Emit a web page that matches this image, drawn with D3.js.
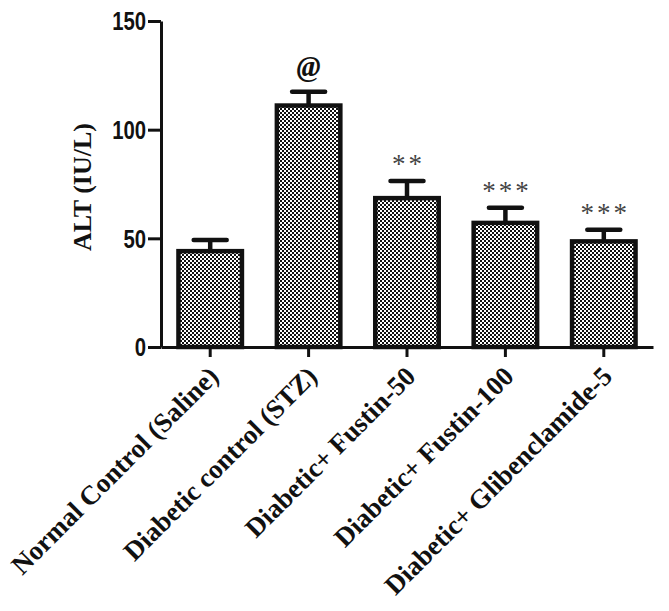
<!DOCTYPE html>
<html><head><meta charset="utf-8">
<script src="https://cdn.jsdelivr.net/npm/d3@7"></script>
<style>
html,body{margin:0;padding:0;background:#fff;}
svg{display:block;}
</style></head>
<body>
<svg id="chart" width="669" height="611"></svg>
<script>
const categories = ["Normal Control (Saline)", "Diabetic control (STZ)", "Diabetic+ Fustin-50", "Diabetic+ Fustin-100", "Diabetic+ Glibenclamide-5"];
const means = [44.1, 111.1, 68.5, 57.1, 48.6];
const sems = [5.1, 6.3, 7.9, 7.0, 5.4];
const marks = ["", "@", "**", "***", "***"];
const yTicks = [0, 50, 100, 150];
const yLabel = "ALT (IU/L)";

const svg = d3.select("#chart");
const x0 = 161, x1 = 653, yBase = 347, yTop = 21;

const x = d3.scaleBand().domain(categories).range([x0, x1]).paddingInner(0.355).paddingOuter(0.1775);
const y = d3.scaleLinear().domain([0, 150]).range([yBase, yTop]);

const defs = svg.append("defs");
const pat = defs.append("pattern").attr("id", "checker").attr("patternUnits", "userSpaceOnUse")
  .attr("width", 4).attr("height", 4);
pat.append("rect").attr("width", 4).attr("height", 4).attr("fill", "#fff");
pat.append("rect").attr("x", 0).attr("y", 0).attr("width", 2).attr("height", 2).attr("fill", "#111");
pat.append("rect").attr("x", 2).attr("y", 2).attr("width", 2).attr("height", 2).attr("fill", "#111");

const data = categories.map((c, i) => ({c, m: means[i], s: sems[i], mark: marks[i]}));
const cx = d => x(d.c) + x.bandwidth()/2;

// error bars
const eb = svg.append("g");
eb.selectAll("line.stem").data(data).join("line")
  .attr("x1", cx).attr("x2", cx)
  .attr("y1", d => y(d.m)).attr("y2", d => y(d.m + d.s))
  .attr("stroke", "#111").attr("stroke-width", 4.5);
eb.selectAll("line.cap").data(data).join("line")
  .attr("x1", d => cx(d) - 16.5).attr("x2", d => cx(d) + 16.5)
  .attr("y1", d => y(d.m + d.s)).attr("y2", d => y(d.m + d.s))
  .attr("stroke", "#111").attr("stroke-width", 4.5).attr("stroke-linecap", "round");

// bars
svg.append("g").selectAll("rect").data(data).join("rect")
  .attr("x", d => x(d.c)).attr("width", x.bandwidth())
  .attr("y", d => y(d.m)).attr("height", d => y(0) - y(d.m))
  .attr("fill", "url(#checker)").attr("stroke", "#111").attr("stroke-width", 4.5);

// annotations
svg.append("g").selectAll("text").data(data).join("text")
  .attr("x", d => cx(d) + (d.mark === "@" ? 0 : 1.5))
  .attr("y", d => d.mark === "@" ? y(d.m + d.s) - 16 : y(d.m + d.s) - 8)
  .attr("text-anchor", "middle")
  .attr("font-family", "'Liberation Serif','Times New Roman',serif")
  .attr("font-size", d => d.mark === "@" ? 29 : 27)
  .attr("font-style", d => d.mark === "@" ? "italic" : "normal")
  .attr("font-weight", d => d.mark === "@" ? "bold" : "normal")
  .attr("letter-spacing", d => d.mark === "@" ? 0 : 3)
  .attr("fill", d => d.mark === "@" ? "#111" : "#444")
  .text(d => d.mark);

// y axis
const sx = 0.78;
const yAxis = d3.axisLeft(y).tickValues(yTicks).tickSize(13).tickPadding(2).tickSizeOuter(0);
const gy = svg.append("g").attr("transform", `translate(${x0},0)`).call(yAxis);
gy.select(".domain").attr("stroke", "#111").attr("stroke-width", 3);
gy.selectAll(".tick line").attr("stroke", "#111").attr("stroke-width", 3);
gy.selectAll(".tick text")
  .attr("x", -15 / sx)
  .attr("dy", "0.34em")
  .attr("transform", `scale(${sx},1)`)
  .attr("font-family", "'Liberation Sans',Arial,sans-serif")
  .attr("font-weight", "bold").attr("font-size", 26).attr("fill", "#111");

// x axis
const xAxis = d3.axisBottom(x).tickSize(10).tickSizeOuter(0).tickFormat("");
const gx = svg.append("g").attr("transform", `translate(0,${yBase})`).call(xAxis);
gx.select(".domain").attr("stroke", "#111").attr("stroke-width", 3);
gx.selectAll(".tick line").attr("stroke", "#111").attr("stroke-width", 3);

// x labels rotated
svg.append("g").selectAll("text").data(categories).join("text")
  .attr("transform", c => `translate(${x(c) + x.bandwidth()/2 + 10},${yBase + 31}) rotate(-45)`)
  .attr("text-anchor", "end")
  .attr("font-family", "'Liberation Serif','Times New Roman',serif")
  .attr("font-weight", "bold").attr("font-size", 27).attr("fill", "#111")
  .text(c => c);

// y label
svg.append("text")
  .attr("transform", `translate(91,187) rotate(-90)`)
  .attr("text-anchor", "middle")
  .attr("font-family", "'Liberation Serif','Times New Roman',serif")
  .attr("font-weight", "bold").attr("font-size", 26).attr("fill", "#111")
  .text(yLabel);
</script>
</body></html>
